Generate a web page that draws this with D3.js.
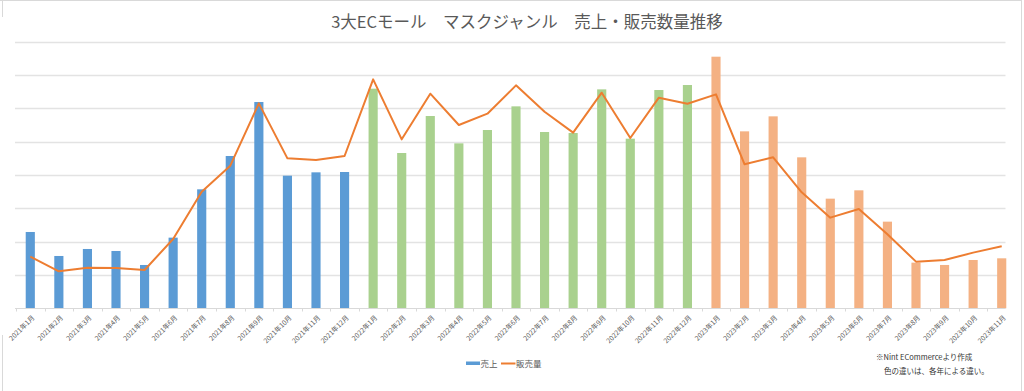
<!DOCTYPE html>
<html>
<head>
<meta charset="utf-8">
<script src="https://cdn.jsdelivr.net/npm/d3@7"></script>
<style>
  html, body { margin: 0; padding: 0; background: #fff; }
  svg { display: block; font-family: "Noto Sans CJK JP", "Noto Sans", sans-serif; }
</style>
</head>
<body>
<svg id="chart" width="1024" height="391"></svg>
<script>
// ---- data ----
const title = "3大ECモール　マスクジャンル　売上・販売数量推移";
const months = [
  "2021年1月","2021年2月","2021年3月","2021年4月","2021年5月","2021年6月",
  "2021年7月","2021年8月","2021年9月","2021年10月","2021年11月","2021年12月",
  "2022年1月","2022年2月","2022年3月","2022年4月","2022年5月","2022年6月",
  "2022年7月","2022年8月","2022年9月","2022年10月","2022年11月","2022年12月",
  "2023年1月","2023年2月","2023年3月","2023年4月","2023年5月","2023年6月",
  "2023年7月","2023年8月","2023年9月","2023年10月","2023年11月"
];
const sales = [
  2.29, 1.57, 1.78, 1.72, 1.30, 2.12, 3.57, 4.57, 6.19, 3.98, 4.08, 4.09,
  6.59, 4.66, 5.77, 4.95, 5.35, 6.06, 5.29, 5.26, 6.57, 5.09, 6.55, 6.70,
  7.55, 5.31, 5.76, 4.53, 3.29, 3.54, 2.60, 1.37, 1.30, 1.45, 1.50
];
const volume = [
  1.55, 1.11, 1.22, 1.21, 1.15, 2.08, 3.50, 4.28, 6.15, 4.50, 4.45, 4.57,
  6.87, 5.07, 6.44, 5.50, 5.84, 6.69, 5.90, 5.27, 6.47, 5.11, 6.32, 6.14,
  6.42, 4.32, 4.53, 3.48, 2.72, 2.98, 2.22, 1.40, 1.45, 1.67, 1.86
];
const gridTicks = [1, 2, 3, 4, 5, 6, 7, 8];
const legendLabels = ["売上", "販売量"];
const noteLines = ["※Nint ECommerceより作成", "色の違いは、各年による違い。"];

// ---- styles ----
const yearColors = { "2021": "#5B9BD5", "2022": "#A9D18E", "2023": "#F4B183" };
const lineColor = "#ED7D31";
const gridColor = "#e3e3e3";
const textColor = "#595959";

const svg = d3.select("#chart");

// frame
const frame = svg.append("g").attr("stroke", "#d9d9d9").attr("stroke-width", 1);
frame.append("line").attr("x1", 0).attr("x2", 1022).attr("y1", 0.5).attr("y2", 0.5);
frame.append("line").attr("x1", 1021.5).attr("x2", 1021.5).attr("y1", 0).attr("y2", 391);
frame.append("line").attr("x1", 2.5).attr("x2", 2.5).attr("y1", 0).attr("y2", 17);
frame.append("line").attr("x1", 2.5).attr("x2", 2.5).attr("y1", 335).attr("y2", 391);

// title
svg.append("text")
  .attr("x", 527).attr("y", 27.5)
  .attr("text-anchor", "middle")
  .attr("font-size", 16.5)
  .attr("fill", textColor)
  .text(title);

// scales
const gridLeft = 15, gridRight = 1005.5;
const x = d3.scaleBand().domain(months).range([16, 1016]).padding(0);
const y = d3.scaleLinear().domain([0, 8]).range([308.3, 41.7]);
const barW = x.bandwidth() * 0.32;
const cx = m => x(m) + x.bandwidth() / 2;

// gridlines
svg.append("g").selectAll("line").data(gridTicks).join("line")
  .attr("x1", gridLeft).attr("x2", gridRight)
  .attr("y1", d => Math.round(y(d)) + 0.5).attr("y2", d => Math.round(y(d)) + 0.5)
  .attr("stroke", gridColor).attr("stroke-width", 1.3);

// bars
svg.append("g").selectAll("rect").data(months).join("rect")
  .attr("x", (m) => cx(m) - barW / 2)
  .attr("width", barW)
  .attr("y", (m, i) => y(sales[i]))
  .attr("height", (m, i) => y(0) - y(sales[i]))
  .attr("fill", m => yearColors[m.slice(0, 4)]);

// x axis
const axisY = 308.5;
const xAxis = d3.axisBottom(x).tickSize(0).tickFormat("");
const axG = svg.append("g").attr("transform", `translate(0,${axisY})`).call(xAxis);
axG.select(".domain").remove();
svg.append("line")
  .attr("x1", gridLeft).attr("x2", gridRight)
  .attr("y1", axisY).attr("y2", axisY)
  .attr("stroke", "#d9d9d9").attr("stroke-width", 1.2);
// boundary ticks
svg.append("g").selectAll("line").data(months).join("line")
  .attr("x1", m => Math.round(x(m)) + 0.5).attr("x2", m => Math.round(x(m)) + 0.5)
  .attr("y1", axisY).attr("y2", axisY + 3)
  .attr("stroke", "#d9d9d9").attr("stroke-width", 1);

// x labels rotated
svg.append("g").selectAll("text").data(months).join("text")
  .attr("transform", m => `translate(${cx(m) + 3},${axisY + 8}) rotate(-45)`)
  .attr("text-anchor", "end")
  .attr("dy", "0.35em")
  .attr("font-size", 6.8)
  .attr("fill", textColor)
  .text(m => m);

// line
const line = d3.line().x((d, i) => cx(months[i])).y(d => y(d));
svg.append("path")
  .datum(volume)
  .attr("d", line)
  .attr("fill", "none")
  .attr("stroke", lineColor)
  .attr("stroke-width", 2)
  .attr("stroke-linejoin", "round");

// legend
const lg = svg.append("g");
lg.append("rect").attr("x", 466).attr("y", 361.5).attr("width", 14).attr("height", 3.5)
  .attr("fill", yearColors["2021"]);
lg.append("text").attr("x", 480.5).attr("y", 366.5).attr("font-size", 8.5)
  .attr("fill", textColor).text(legendLabels[0]);
lg.append("line").attr("x1", 501).attr("x2", 515.5).attr("y1", 363.5).attr("y2", 363.5)
  .attr("stroke", lineColor).attr("stroke-width", 2);
lg.append("text").attr("x", 516).attr("y", 366.5).attr("font-size", 8.5)
  .attr("fill", textColor).text(legendLabels[1]);

// note
svg.append("g").selectAll("text").data(noteLines).join("text")
  .attr("x", (d, i) => i === 0 ? 876 : 884)
  .attr("y", (d, i) => 360 + i * 14)
  .attr("font-size", 7.5)
  .attr("fill", "#333")
  .text(d => d);
</script>
</body>
</html>
